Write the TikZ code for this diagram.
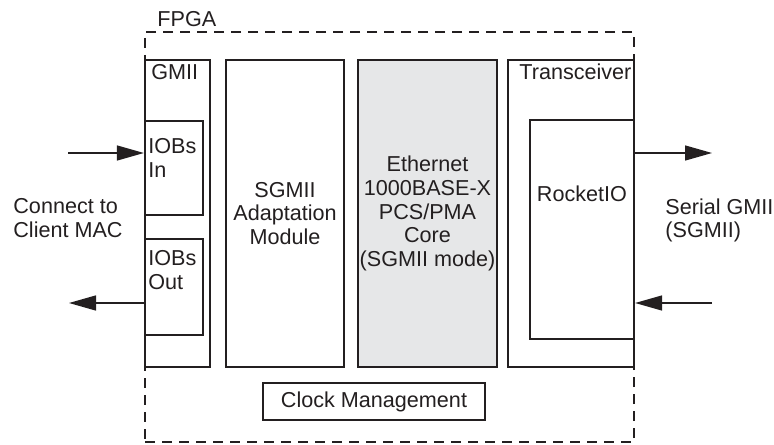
\documentclass[tikz,border=0pt]{standalone}
\usepackage{fontspec}
\setmainfont{Liberation Sans}
\usetikzlibrary{arrows.meta,positioning,calc}
\definecolor{CoreGray}{HTML}{E6E7E8}
\definecolor{LineBlack}{HTML}{231F20}

\begin{document}
\begin{tikzpicture}[
        x=0.5pt, y=-0.5pt,
        font=\fontsize{10.8}{11.8}\selectfont,
        fpgabox/.style={
          draw=LineBlack,
          line width=0.65pt,
          dash pattern=on 5pt off 3.5pt,
          inner sep=0pt,
          minimum width=244.5pt,
          minimum height=205pt
        },
        box/.style={
          draw=LineBlack,
          fill=white,
          line width=1.1pt,
          align=center,
          inner sep=0pt,
          text=LineBlack
        },
        corebox/.style={box, fill=CoreGray},
        tag/.style={inner sep=0pt, align=left, text=LineBlack},
        arrow/.style={-{Triangle[length=13.5pt, width=7.5pt]}, line width=0.7pt, draw=LineBlack}
      ]
        \useasboundingbox (0,0) rectangle (774,444);

        \node[fpgabox] (fpga) at (389.5,237) {};
        \node[tag, anchor=base west] (fpgatag) at (157,27) {FPGA};

        \node[box, minimum width=32.5pt, minimum height=153.5pt] (gmii) at (177.5,213.5) {};
        \node[box, minimum width=29pt, minimum height=47pt] (iobsin) at (174,168) {};
        \node[box, minimum width=29pt, minimum height=48pt] (iobsout) at (174,287) {};
        \node[box, minimum width=59pt, minimum height=153.5pt] (sgmii) at (285,213.5) {SGMII\\Adaptation\\Module};
        \node[corebox, minimum width=69.5pt, minimum height=153.5pt] (core) at (427.5,213.5)
          {Ethernet\\1000BASE-X\\PCS/PMA\\Core\\(SGMII mode)};
        \node[box, minimum width=63pt, minimum height=153.5pt] (xcvr) at (571,213.5) {};
        \node[box, minimum width=52pt, minimum height=109.5pt] (rocket) at (582,229.5) {};
        \node[box, minimum width=111pt, minimum height=18.5pt] (clock) at (374,401.5) {Clock Management};

        \node[tag, anchor=base west] (gmiitag) at (151,80) {GMII};
        \node[tag, anchor=north west] (iobsintag) at (148,138) {IOBs\\In};
        \node[tag, anchor=north west] (iobsouttag) at (148,250) {IOBs\\Out};
        \node[tag, anchor=base west] (xcvrtag) at (519,80) {Transceiver};
        \node[tag] (rockettag) at (582,194) {RocketIO};

        \node[tag, anchor=north west] (mac) at (13,198) {Connect to\\Client MAC};
        \node[tag, anchor=north west] (serial) at (665,198) {Serial GMII\\(SGMII)};

        \coordinate (macin) at (68,153);
        \coordinate (macout) at (69,303);
        \coordinate (serout) at (712,153);
        \coordinate (serin) at (712,303);

        \draw[arrow] (macin) -- (macin -| iobsin.west);
        \draw[arrow] (macout -| iobsout.west) -- (macout);
        \draw[arrow] (serout -| rocket.east) -- (serout);
        \draw[arrow] (serin) -- (serin -| rocket.east);
      \end{tikzpicture}
\end{document}
